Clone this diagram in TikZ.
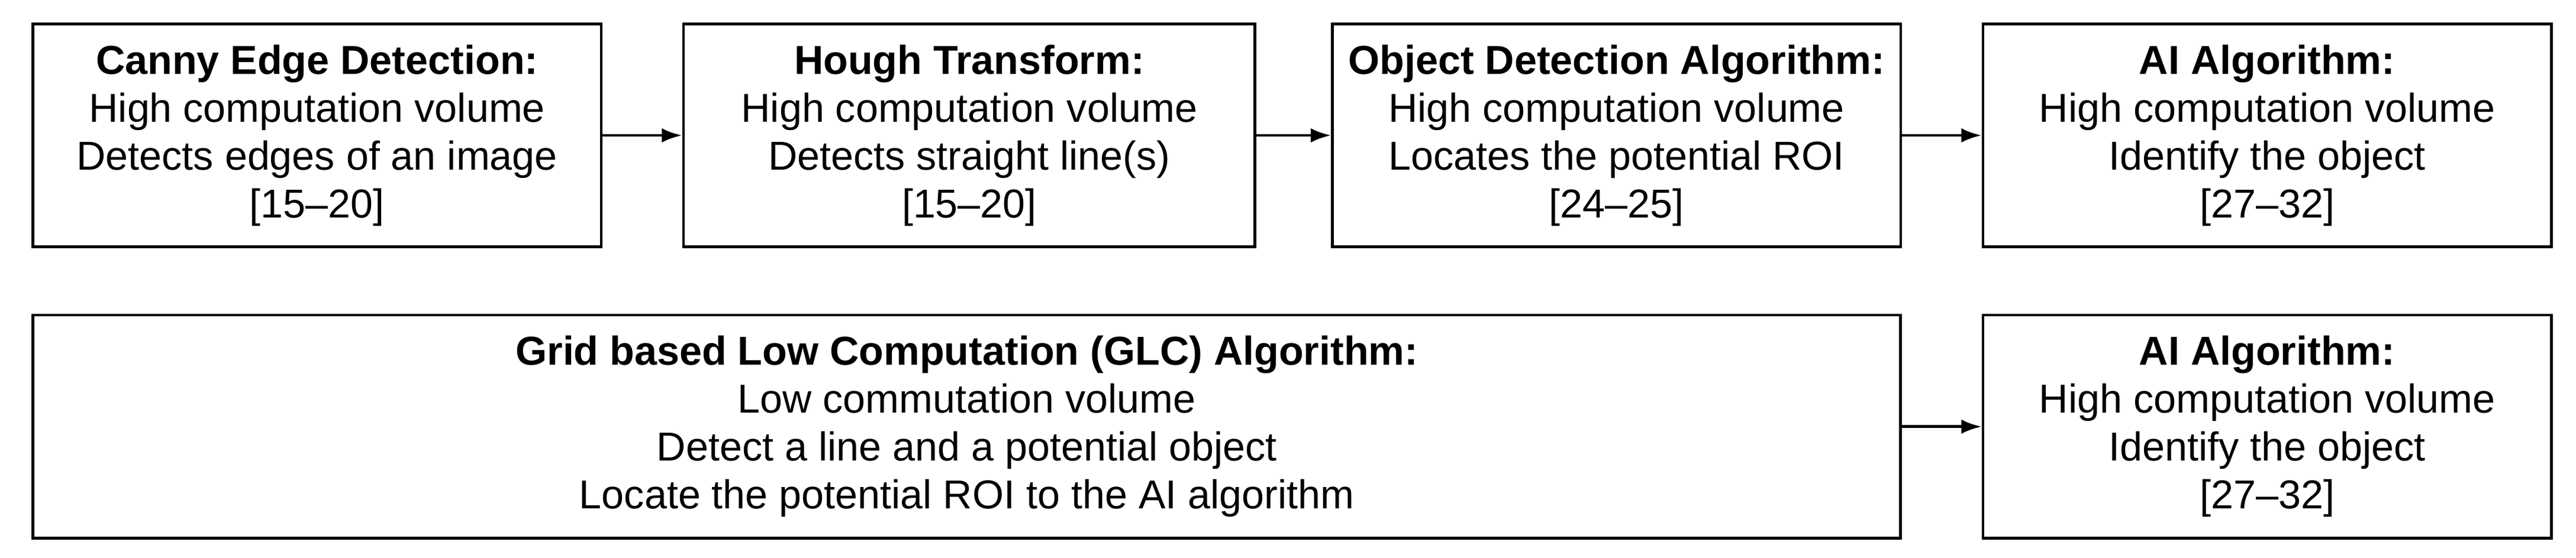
\documentclass[tikz,border=0pt]{standalone}
\usepackage{fontspec}
\setmainfont{Liberation Sans}
\usetikzlibrary{arrows.meta}
\tikzset{
  every picture/.style={
    line width=1pt,
    >={Latex[width=5pt, length=7pt]}
  },
  stage/.style={
    draw, rectangle, align=center, inner sep=0pt,
    minimum height=2.72cm,
    font=\fontsize{14}{16.6}\selectfont
  }
}
\begin{document}
\begin{tikzpicture}[x=0.02cm,y=-0.02cm]
  \useasboundingbox (0,0) rectangle (1568,340);
  \node [stage,minimum width=6.92cm] (canny) at (193,82.5)
    {\textbf{Canny Edge Detection:}\\High computation volume\\Detects edges of an image\\{[}15--20{]}};
  \node [stage,minimum width=6.96cm] (hough) at (590,82.5)
    {\textbf{Hough Transform:}\\High computation volume\\Detects straight line(s)\\{[}15--20{]}};
  \node [stage,minimum width=6.92cm] (objdet) at (984,82.5)
    {\textbf{Object Detection Algorithm:}\\High computation volume\\Locates the potential ROI\\{[}24--25{]}};
  \node [stage,minimum width=6.92cm] (ai) at (1380,82.5)
    {\textbf{AI Algorithm:}\\High computation volume\\Identify the object\\{[}27--32{]}};
  \node [stage,minimum width=22.74cm] (glc) at (588.5,260)
    {\textbf{Grid based Low Computation (GLC) Algorithm:}\\Low commutation volume\\Detect a line and a potential object\\Locate the potential ROI to the AI algorithm};
  \node [stage,minimum width=6.92cm] (aitwo) at (1380,260)
    {\textbf{AI Algorithm:}\\High computation volume\\Identify the object\\{[}27--32{]}};
  \draw [->] (canny) -- (hough);
  \draw [->] (hough) -- (objdet);
  \draw [->] (objdet) -- (ai);
  \draw [->] (glc) -- (aitwo);
\end{tikzpicture}
\end{document}
